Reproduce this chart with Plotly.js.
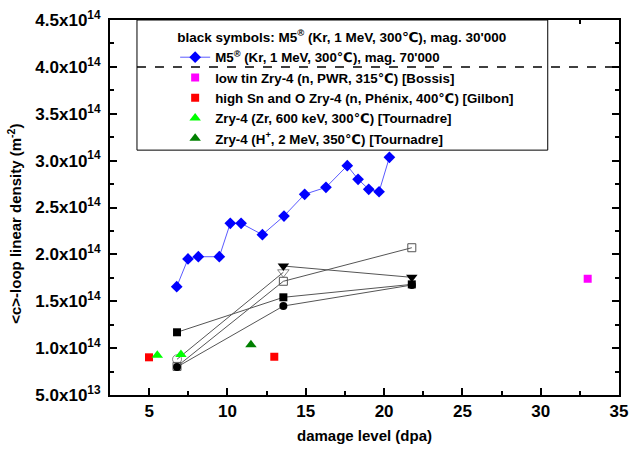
<!DOCTYPE html>
<html>
<head>
<meta charset="utf-8">
<script src="https://cdn.plot.ly/plotly-3.0.1.min.js"></script>
<style>body{margin:0;padding:0;background:#fff}#chart{width:630px;height:456px}</style>
</head>
<body>
<div id="chart"></div>
<script>
// ---- data (damage level in dpa, density in m^-2) ----
const blueX = [6.76, 7.48, 8.14, 9.48, 10.18, 10.87, 12.23, 13.61, 14.93, 16.29, 17.65, 18.34, 19.02, 19.68, 20.34];
const blueY = [1.655e14, 1.951e14, 1.975e14, 1.975e14, 2.331e14, 2.331e14, 2.210e14, 2.409e14, 2.641e14, 2.715e14, 2.946e14, 2.801e14, 2.694e14, 2.668e14, 3.035e14];

const blackX = [6.78, 13.57, 21.77];
const filledSquareY = [1.169e14, 1.542e14, 1.680e14];
const filledCircleY = [0.799e14, 1.449e14, 1.673e14];
const openSquareY = [0.805e14, 1.713e14, 2.071e14];
const openX = [6.78, 13.57];
const openY = [0.881e14, 1.809e14];
const filledTriX = [13.57, 21.77];
const filledTriY = [1.876e14, 1.755e14];

const bossisX = [33.0];
const bossisY = [1.74e14];
const gilbonX = [4.99, 12.99];
const gilbonY = [0.902e14, 0.908e14];
const zrX = [5.52, 7.03];
const zrY = [0.925e14, 0.932e14];
const hX = [11.5];
const hY = [1.035e14];

const refLineY = [4.0e14];

const yTickVals = [0.5e14, 1.0e14, 1.5e14, 2.0e14, 2.5e14, 3.0e14, 3.5e14, 4.0e14, 4.5e14];
const yTickText = ['5.0x10<sup>13</sup>', '1.0x10<sup>14</sup>', '1.5x10<sup>14</sup>', '2.0x10<sup>14</sup>',
  '2.5x10<sup>14</sup>', '3.0x10<sup>14</sup>', '3.5x10<sup>14</sup>', '4.0x10<sup>14</sup>', '4.5x10<sup>14</sup>'];
const xTickVals = [5, 10, 15, 20, 25, 30, 35];

const legendNames = [
  'M5<sup>®</sup> (Kr, 1 MeV, 300℃), mag. 70\'000',
  'low tin Zry-4 (n, PWR, 315℃) [Bossis]',
  'high Sn and O Zry-4 (n, Phénix, 400℃) [Gilbon]',
  'Zry-4 (Zr, 600 keV, 300℃) [Tournadre]',
  'Zry-4 (H<sup>+</sup>, 2 MeV, 350℃) [Tournadre]'
];
const legendTitle = 'black symbols: M5<sup>®</sup> (Kr, 1 MeV, 300℃), mag. 30\'000';
const xTitle = 'damage level (dpa)';
const yTitle = '&lt;c&gt;-loop linear density (m<sup>-2</sup>)';

const FONT = '"Liberation Sans", Arial, "DejaVu Sans", sans-serif';
const grayLine = {color: '#555555', width: 1};

const traces = [
  {x: blackX, y: openSquareY, mode: 'lines+markers', showlegend: false, line: grayLine,
   marker: {symbol: 'square-open', size: 8, color: '#555555', line: {width: 1}}},
  {x: openX, y: openY, mode: 'lines+markers', showlegend: false, line: grayLine,
   marker: {symbol: ['circle-open', 'triangle-down-open'], size: [9, 10], color: '#555555', line: {width: 1}}},
  {x: blackX, y: filledSquareY, mode: 'lines+markers', showlegend: false, line: grayLine,
   marker: {symbol: 'square', size: 8, color: '#000000'}},
  {x: blackX, y: filledCircleY, mode: 'lines+markers', showlegend: false, line: grayLine,
   marker: {symbol: 'circle', size: 8, color: '#000000'}},
  {x: filledTriX, y: filledTriY, mode: 'lines+markers', showlegend: false, line: grayLine,
   marker: {symbol: 'triangle-down', size: 10, color: '#000000'}},
  {x: blueX, y: blueY, mode: 'lines+markers', name: legendNames[0],
   line: {color: '#5a5aff', width: 1}, marker: {symbol: 'diamond', size: 9, color: '#0000ff'}},
  {x: bossisX, y: bossisY, mode: 'markers', name: legendNames[1],
   marker: {symbol: 'square', size: 8, color: '#ff00ff'}},
  {x: gilbonX, y: gilbonY, mode: 'markers', name: legendNames[2],
   marker: {symbol: 'square', size: 8, color: '#ff0000'}},
  {x: zrX, y: zrY, mode: 'markers', name: legendNames[3],
   marker: {symbol: 'triangle-up', size: 10, color: '#00ff00'}},
  {x: hX, y: hY, mode: 'markers', name: legendNames[4],
   marker: {symbol: 'triangle-up', size: 10, color: '#008000'}}
];

const axisCommon = {
  showline: true, linecolor: '#000', linewidth: 2, mirror: 'allticks',
  ticks: 'inside', ticklen: 7, tickwidth: 2, tickcolor: '#000',
  showgrid: false, zeroline: false,
  tickfont: {family: FONT, size: 17, color: '#000', weight: 'bold'}
};

const layout = {
  width: 630, height: 456,
  margin: {l: 110, r: 11, t: 20, b: 61},
  paper_bgcolor: '#fff', plot_bgcolor: '#fff',
  font: {family: FONT, color: '#000', weight: 'bold'},
  xaxis: Object.assign({}, axisCommon, {
    range: [2.5, 35], tickmode: 'array', tickvals: xTickVals,
    minor: {dtick: 2.5, tick0: 0, ticklen: 4, tickwidth: 2, tickcolor: '#000', ticks: 'inside', showgrid: false},
    title: {text: xTitle, font: {family: FONT, size: 15, color: '#000', weight: 'bold'}, standoff: 10}
  }),
  yaxis: Object.assign({}, axisCommon, {
    range: [0.5e14, 4.5e14], tickmode: 'array', tickvals: yTickVals, ticktext: yTickText,
    minor: {dtick: 0.25e14, tick0: 0, ticklen: 4, tickwidth: 2, tickcolor: '#000', ticks: 'inside', showgrid: false},
    ticklabelstandoff: 4
  }),
  annotations: [
    {text: yTitle, xref: 'paper', yref: 'paper', x: -0.189, y: 0.456, textangle: -90,
     showarrow: false, xanchor: 'center', yanchor: 'middle',
     font: {family: FONT, size: 15, color: '#000', weight: 'bold'}}
  ],
  legend: {
    x: 0.128, y: 0.988, xanchor: 'left', yanchor: 'top',
    bgcolor: 'rgba(0,0,0,0)', borderwidth: 0,
    font: {family: FONT, size: 13.3, color: '#000', weight: 'bold'},
    title: {text: legendTitle, side: 'top', font: {family: FONT, size: 13.5, color: '#000', weight: 'bold'}},
    itemwidth: 30
  },
  shapes: [
    {type: 'rect', xref: 'paper', yref: 'paper', x0: 0.053, x1: 0.86, y0: 0.653, y1: 1,
     line: {color: '#000', width: 1}, fillcolor: '#fff', layer: 'above'},
    {type: 'line', xref: 'paper', yref: 'y', x0: 0.053, x1: 1, y0: refLineY[0], y1: refLineY[0],
     line: {color: '#000', width: 1.5, dash: 'dash'}, layer: 'above'}
  ]
};

Plotly.newPlot('chart', traces, layout, {displayModeBar: false, staticPlot: true});
</script>
</body>
</html>
